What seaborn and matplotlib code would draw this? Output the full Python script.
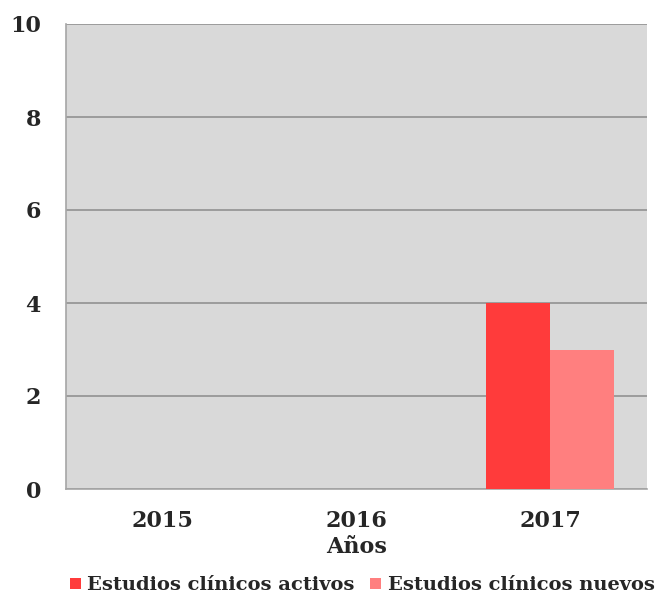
import matplotlib
matplotlib.use("Agg")
import matplotlib.pyplot as plt
import seaborn as sns
import pandas as pd

years = ["2015", "2016", "2017"]
activos = [0, 0, 4]
nuevos = [0, 0, 3]
series_names = ["Estudios clínicos activos", "Estudios clínicos nuevos"]
colors = ["#ff3b3b", "#ff7f7f"]

df = pd.DataFrame({
    "Año": years * 2,
    "Valor": activos + nuevos,
    "Serie": [series_names[0]] * 3 + [series_names[1]] * 3,
})

sns.set_style("white")
plt.rcParams["font.family"] = ["DejaVu Serif"]
plt.rcParams["font.weight"] = "bold"

fig = plt.figure(figsize=(6.58, 5.96), dpi=100)
ax = fig.add_axes([66/658, 1-489/596, (647-66)/658, (489-24)/596])
ax.set_facecolor("#d9d9d9")

sns.barplot(data=df, x="Año", y="Valor", hue="Serie", palette=colors,
            width=0.66, saturation=1, ax=ax, zorder=3, legend=True,
            linewidth=0, edgecolor="none")

ax.set_ylim(0, 10)
ax.set_yticks([0, 2, 4, 6, 8, 10])
ax.set_xlim(-0.5, 2.5)
ax.yaxis.grid(True, color="#8c8c8c", linewidth=1.1, zorder=1)
ax.set_axisbelow(True)

for s in ["top", "right"]:
    ax.spines[s].set_visible(False)
for s in ["left", "bottom"]:
    ax.spines[s].set_color("#a6a6a6")
    ax.spines[s].set_linewidth(1.2)

ax.set_xticks([-0.5, 0.5, 1.5, 2.5], minor=True)
ax.tick_params(axis="x", which="major", length=0, labelsize=16, pad=15)
ax.tick_params(axis="x", which="minor", length=8, color="#a6a6a6", width=1.2)
ax.tick_params(axis="y", length=8, color="#a6a6a6", width=1.2, labelsize=16, pad=10)
for lab in ax.get_xticklabels() + ax.get_yticklabels():
    lab.set_fontweight("bold")

ax.set_xlabel("Años", fontsize=16, fontweight="bold", labelpad=3)
ax.set_ylabel("")

handles, labels = ax.get_legend_handles_labels()
ax.legend(handles, labels, loc="center", bbox_to_anchor=(0.51, -0.207),
          ncol=2, frameon=False, handlelength=0.55, handleheight=0.55,
          handletextpad=0.35, columnspacing=0.8,
          prop={"weight": "bold", "size": 14})

fig.savefig("out.png", dpi=100)
